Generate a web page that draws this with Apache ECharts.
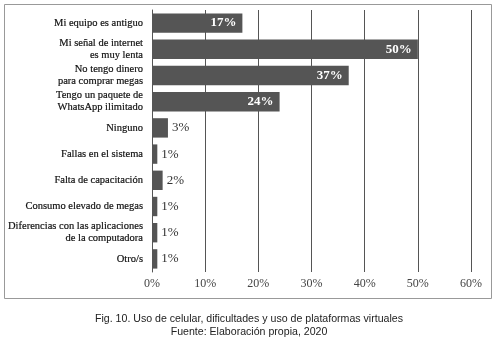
<!DOCTYPE html>
<html><head><meta charset="utf-8">
<script src="https://cdn.jsdelivr.net/npm/echarts@6/dist/echarts.min.js"></script>
<style>html,body{margin:0;padding:0;background:#fff}#c{width:498px;height:339px}</style>
</head><body><div id="c"></div>
<script>
const categories = [
  "Mi equipo es antiguo",
  "Mi señal de internet\nes muy lenta",
  "No tengo dinero\npara comprar megas",
  "Tengo un paquete de\nWhatsApp ilimitado",
  "Ninguno",
  "Fallas en el sistema",
  "Falta de capacitación",
  "Consumo elevado de megas",
  "Diferencias con las aplicaciones\nde la computadora",
  "Otro/s"
];
const values = [17, 50, 37, 24, 3, 1, 2, 1, 1, 1];
const xTicks = [0, 10, 20, 30, 40, 50, 60];
const captionLines = ["Fig. 10. Uso de celular, dificultades y uso de plataformas virtuales", "Fuente: Elaboración propia, 2020"];

const serif = "'Liberation Serif', serif";
const chart = echarts.init(document.getElementById('c'), null, {renderer: 'canvas'});
chart.setOption({
  animation: false,
  backgroundColor: '#fff',
  grid: {left: 152, right: 27, top: 10, height: 262, containLabel: false, outerBoundsMode: 'none'},
  xAxis: {
    type: 'value', min: 0, max: 60, interval: 10,
    axisLine: {show: false}, axisTick: {show: false},
    splitLine: {show: true, lineStyle: {color: '#555', width: 1}},
    axisLabel: {formatter: v => xTicks.includes(v) ? v + '%' : '', fontFamily: serif, fontSize: 12, color: '#444', margin: 6}
  },
  yAxis: {
    type: 'category', data: categories, inverse: true,
    axisLine: {show: true, lineStyle: {color: '#555'}}, axisTick: {show: false},
    axisLabel: {fontFamily: serif, fontSize: 10.5, fontWeight: 'normal', color: '#111', margin: 9, lineHeight: 12, align: 'right',
      textBorderColor: '#111', textBorderWidth: 0.2}
  },
  series: [{
    type: 'bar', barWidth: '74%',
    data: values.map(v => ({
      value: v,
      label: v >= 10
        ? {show: true, position: 'insideRight', color: '#fff', fontWeight: 'bold', fontSize: 13, fontFamily: serif, offset: [-1, 0]}
        : {show: true, position: 'right', color: '#333', fontSize: 13, fontFamily: serif, distance: 4}
    })),
    itemStyle: {color: '#555'},
    label: {formatter: p => p.value + '%'}
  }],
  graphic: [
    {type: 'rect', shape: {x: 4.5, y: 4.5, width: 487, height: 294}, style: {fill: 'none', stroke: '#999', lineWidth: 1}, z: -1},
    {type: 'text', x: 249, y: 319, style: {text: captionLines[0], font: '10.6px "Liberation Sans"', fill: '#222', align: 'center', verticalAlign: 'middle'}},
    {type: 'text', x: 249, y: 332, style: {text: captionLines[1], font: '10.6px "Liberation Sans"', fill: '#222', align: 'center', verticalAlign: 'middle'}}
  ]
});
</script></body></html>
